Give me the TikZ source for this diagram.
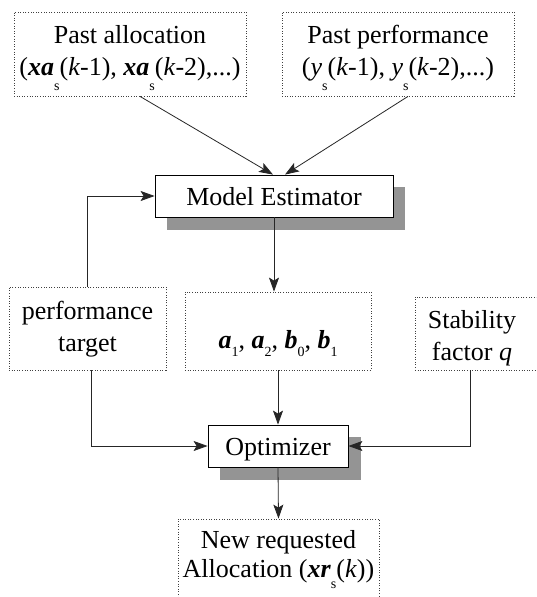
\documentclass[tikz,border=0pt]{standalone}
\usepackage{fontspec}
\setmainfont{Liberation Serif}
\usetikzlibrary{arrows.meta}
\newcommand{\lsub}[2]{\raisebox{-#1pt}{\fontsize{14}{14}\selectfont #2}}
\newcommand{\bvec}[1]{\textbf{\textit{#1}}}
\begin{document}
\begin{tikzpicture}[x=1pt,y=-1pt,
  dbox/.style={draw=black!75,dash pattern=on 1pt off 1.6pt,line width=0.8pt,inner sep=0pt},
  sbox/.style={draw=black,line width=0.8pt,fill=white,inner sep=0pt},
  shade/.style={fill=black!42,draw=none,inner sep=0pt},
  txt/.style={inner sep=0pt,anchor=base,font=\fontsize{26}{31}\selectfont},
  conn/.style={draw=black!85,line width=0.8pt},
  arr/.style={conn,-{Stealth[length=14pt,width=10pt,inset=3pt]}}]
\useasboundingbox (0,0) rectangle (536,597);
\clip (0,0) rectangle (536,597);
\fill[white] (0,0) rectangle (536,597);

% dotted input / output boxes
\node[dbox,minimum width=232pt,minimum height=84pt] (alloc) at (130,54) {};
\node[dbox,minimum width=232pt,minimum height=84pt] (perf) at (398,54) {};
\node[dbox,minimum width=157pt,minimum height=83pt] (target) at (87.5,328.5) {};
\node[dbox,minimum width=186pt,minimum height=78pt] (coef) at (278,331) {};
\node[dbox,minimum width=130pt,minimum height=73pt] (stab) at (480,333.5) {};
\node[dbox,minimum width=201pt,minimum height=121pt] (out) at (278.5,579.5) {};

% shadows and solid boxes
\node[shade,minimum width=238pt,minimum height=43pt] (estsh) at (286,208.5) {};
\node[sbox,minimum width=238pt,minimum height=42pt] (est) at (274,196) {};
\node[shade,minimum width=141pt,minimum height=43pt] (optsh) at (290.5,458.5) {};
\node[sbox,minimum width=140pt,minimum height=42pt] (opt) at (278,446) {};

% texts
\node[txt] (alloc1) at (130,43.5) {Past allocation};
\node[txt] (alloc2) at (130,75) {(\bvec{xa}\lsub{15}{s}(\textit{k}-1), \bvec{xa}\lsub{15}{s}(\textit{k}-2),...)};
\node[txt] (perf1) at (398,43.5) {Past performance};
\node[txt] (perf2) at (398,75) {(\textit{y}\lsub{15}{s}(\textit{k}-1), \textit{y}\lsub{15}{s}(\textit{k}-2),...)};
\node[txt] (est1) at (274,205) {Model Estimator};
\node[txt] (target1) at (87.5,319) {performance};
\node[txt] (target2) at (87.5,351) {target};
\node[txt] (coef1) at (278,348) {\bvec{a}\lsub{8}{1}, \bvec{a}\lsub{8}{2}, \bvec{b}\lsub{8}{0}, \bvec{b}\lsub{8}{1}};
\node[txt] (stab1) at (472,328) {Stability};
\node[txt] (stab2) at (472,360) {factor \textit{q}};
\node[txt] (opt1) at (278,455) {Optimizer};
\node[txt] (out1) at (278.5,548) {New requested};
\node[txt] (out2) at (278.5,577) {Allocation (\bvec{xr}\lsub{11}{s}(\textit{k}))};

% connectors
\draw[arr] ([xshift=10pt]alloc.south) -- ([xshift=-1pt]est.north);
\draw[arr] ([xshift=10pt]perf.south) -- ([xshift=11pt]est.north);
\draw[arr] (target.north) |- (est.west);
\draw[arr] (est.south) -- (est.south |- coef.north);
\draw[arr] (coef.south) -- (opt.north);
\draw[arr] ([xshift=4pt]target.south) |- (opt.west);
\draw[arr] ([xshift=-10pt]stab.south) |- (opt.east);
\draw[arr] (opt.south) -- (out.north);
\end{tikzpicture}
\end{document}
